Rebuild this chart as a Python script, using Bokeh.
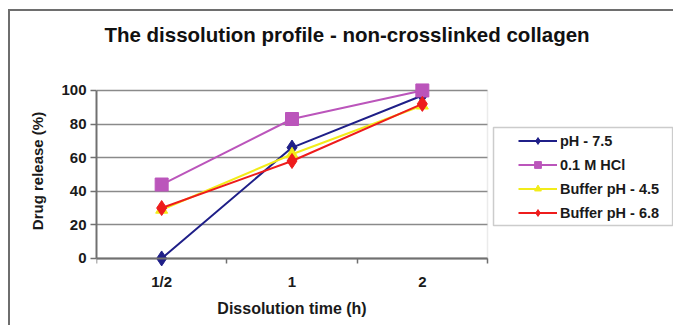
from bokeh.plotting import figure
from bokeh.models import (Range1d, FixedTicker, Legend, LegendItem, Label, BoxAnnotation)
from bokeh.embed import file_html
from bokeh.resources import INLINE

# ---- data ----
categories = ["1/2", "1", "2"]
ph75 = [0, 66, 97]
hcl = [44, 83, 100]
buf45 = [29, 62, 91]
buf68 = [30, 58, 92]
y_ticks = [0, 20, 40, 60, 80, 100]
title_text = "The dissolution profile - non-crosslinked collagen"

ncat = len(categories)
xpos = [i + 0.5 for i in range(ncat)]

FONT = "Liberation Sans"
TXT = "#1a1a1a"
AX = "#707070"

# frame: data area 0..ncat x 0..100, extended to hold legend, title and x-axis texts
p = figure(width=665, height=316, output_backend="svg", toolbar_location=None,
           x_range=Range1d(0, 4.427), y_range=Range1d(-41.1, 145.2),
           min_border_left=86, min_border_right=2, min_border_top=3, min_border_bottom=0)
p.margin = (9, 0, 0, 8)
p.styles = {"border-left": "2px solid #6e6e6e", "border-top": "2px solid #6e6e6e"}
p.background_fill_color = "white"
p.border_fill_color = "white"
p.outline_line_color = None

# grid
p.xgrid.grid_line_color = None
p.ygrid.grid_line_color = "#8a8a8a"
p.ygrid.grid_line_width = 1.5
p.ygrid.ticker = FixedTicker(ticks=y_ticks)

# white cover so grid lines stop at the plot area's right edge
p.add_layout(BoxAnnotation(left=ncat, fill_color="white", fill_alpha=1, line_alpha=0,
                           level="underlay"))
# plot area right edge
p.add_layout(BoxAnnotation(left=ncat, right=ncat, bottom=0, top=100, fill_alpha=0,
                           line_color="#bdbdbd", line_width=1.5, level="underlay"))

# x axis (placed at y = 0)
xa = p.xaxis[0]
xa.fixed_location = 0
xa.bounds = (0, ncat)
xa.ticker = FixedTicker(ticks=xpos, minor_ticks=list(range(ncat + 1)))
xa.major_label_overrides = {x: c for x, c in zip(xpos, categories)}
xa.major_tick_line_color = None
xa.major_tick_out = 5
xa.major_tick_in = 0
xa.minor_tick_out = 5
xa.minor_tick_in = 0
xa.minor_tick_line_color = AX
xa.minor_tick_line_width = 1.5
xa.axis_line_color = AX
xa.axis_line_width = 2
xa.major_label_standoff = 10
xa.major_label_text_font = FONT
xa.major_label_text_font_style = "bold"
xa.major_label_text_font_size = "15px"
xa.major_label_text_color = TXT
xa.axis_label = "Dissolution time (h)"
xa.axis_label_text_font = FONT
xa.axis_label_text_font_style = "bold"
xa.axis_label_text_font_size = "16px"
xa.axis_label_text_color = TXT
xa.axis_label_standoff = 6

# y axis
ya = p.yaxis[0]
ya.bounds = (0, 100)
ya.ticker = FixedTicker(ticks=y_ticks)
ya.major_tick_out = 6
ya.major_tick_in = 0
ya.minor_tick_line_color = None
ya.major_tick_line_color = AX
ya.major_tick_line_width = 1.5
ya.axis_line_color = AX
ya.axis_line_width = 2
ya.major_label_standoff = 4
ya.major_label_text_font = FONT
ya.major_label_text_font_style = "bold"
ya.major_label_text_font_size = "15px"
ya.major_label_text_color = TXT
ya.axis_label = "Drug release (%)"
ya.axis_label_text_font = FONT
ya.axis_label_text_font_style = "bold"
ya.axis_label_text_font_size = "15px"
ya.axis_label_text_color = TXT
ya.axis_label_standoff = 12

# series
series = [
    ("pH - 7.5", ph75, "#1f1f88", "diamond", 15),
    ("0.1 M HCl", hcl, "#bb55bb", "square", 13),
    ("Buffer pH - 4.5", buf45, "#f2ec1a", "triangle", 12),
    ("Buffer pH - 6.8", buf68, "#ee1c1c", "diamond", 15),
]
items = []
for name, vals, color, marker, size in series:
    l = p.line(xpos, vals, line_color=color, line_width=2)
    s = p.scatter(xpos, vals, marker=marker, size=size, fill_color=color, line_color=color)
    items.append(LegendItem(label=name, renderers=[l, s]))

# legend frame
p.add_layout(BoxAnnotation(left=3.046, right=4.42, top=78.0, bottom=19.6,
                           fill_color="white", fill_alpha=1,
                           line_color="#555555", line_width=1.5))

legend = Legend(items=items, location=(422, 47 + 59), orientation="vertical",
                padding=0, margin=0, spacing=7, glyph_width=39, glyph_height=17,
                label_height=17, label_standoff=3,
                border_line_alpha=0, background_fill_alpha=0,
                label_text_font=FONT, label_text_font_style="bold",
                label_text_font_size="14.5px", label_text_color=TXT)
p.add_layout(legend)

p.add_layout(Label(x=1.922, y=133.3, text=title_text, text_align="center",
                   text_baseline="middle", text_font=FONT, text_font_style="bold",
                   text_font_size="20.5px", text_color="#111111"))

open("out.html", "w").write(file_html(p, INLINE))
